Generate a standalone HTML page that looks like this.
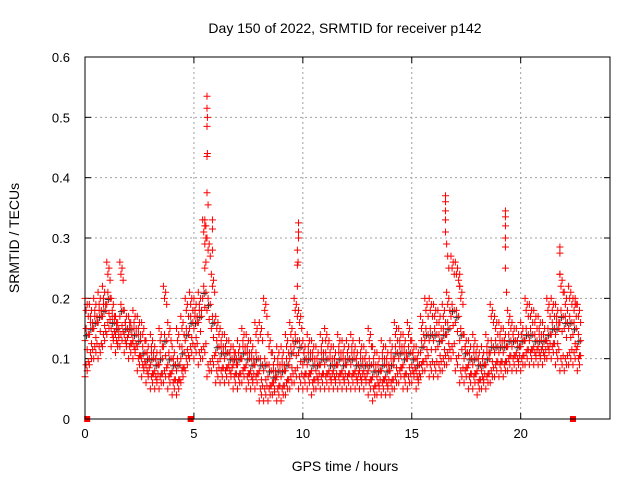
<!DOCTYPE html>
<html><head><meta charset="utf-8"><style>
body{margin:0;background:#fff}
svg{display:block;font-family:"Liberation Sans",sans-serif}
</style></head><body>
<svg id="chart" width="640" height="480">
<rect width="640" height="480" fill="#fff"/>
<text x="345" y="33" font-size="14" text-anchor="middle">Day 150 of 2022, SRMTID for receiver p142</text>
<text x="345" y="471" font-size="14" text-anchor="middle">GPS time / hours</text>
<text transform="translate(19,238) rotate(-90)" font-size="14" text-anchor="middle">SRMTID / TECUs</text>
<g id="grid"></g>
<g id="ticks"></g>
<g id="marks"></g>
<rect x="85" y="57" width="525" height="362" fill="none" stroke="#000" stroke-width="1"/>
</svg>
<script>
const xTicks=[0,5,10,15,20];
const yTicks=[0,0.1,0.2,0.3,0.4,0.5,0.6];
const yTickLabels=["0","0.1","0.2","0.3","0.4","0.5","0.6"];
const tStep=0.2;
const hiVals=[.2,.19,.2,.21,.22, .26,.2,.17,.26,.18, .17,.18,.17,.16,.13, .14,.12,.15,.22,.16, .12,.15,.17,.2,.21,
 .2,.21,.33,.3,.24, .17,.15,.14,.13,.12, .13,.15,.14,.13,.16, .16,.2,.14,.11,.12, .12,.14,.16,.2,.18,
 .13,.14,.13,.12,.14, .15,.13,.12,.14,.13, .13,.14,.12,.13,.12, .15,.12,.11,.13,.12, .13,.16,.15,.14,.16,
 .13,.12,.17,.2,.2, .19,.18,.19,.21,.27, .26,.22,.14,.13,.14, .12,.12,.14,.19,.17, .16,.15,.18,.16,.15,
 .16,.2,.19,.18,.17, .16,.2,.2,.19,.24, .21,.22,.2,.19];
const midVals=[.13,.14,.15,.16,.17, .19,.15,.14,.17,.14, .14,.13,.12,.1,.09, .09,.08,.09,.12,.09, .08,.08,.1,.13,.15,
 .15,.16,.2,.18,.15, .11,.1,.1,.09,.09, .09,.1,.09,.08,.09, .08,.08,.07,.06,.07, .07,.08,.1,.12,.11,
 .09,.09,.08,.08,.09, .09,.08,.08,.09,.08, .09,.09,.08,.08,.08, .08,.07,.07,.08,.07, .08,.1,.1,.09,.1,
 .09,.08,.11,.13,.13, .13,.12,.13,.14,.17, .16,.13,.1,.09,.09, .08,.08,.09,.11,.11, .11,.11,.12,.12,.11,
 .12,.13,.13,.12,.12, .12,.13,.14,.14,.16, .15,.15,.14,.12];
const loVals=[.07,.09,.1,.1,.12, .14,.12,.11,.12,.11, .1,.1,.08,.07,.06, .05,.05,.05,.06,.05, .04,.04,.06,.08,.1,
 .1,.09,.1,.07,.08, .06,.06,.06,.06,.05, .05,.06,.05,.05,.05, .03,.03,.03,.04,.03, .03,.04,.05,.06,.05,
 .05,.05,.04,.05,.05, .05,.05,.05,.05,.05, .05,.05,.05,.05,.05, .04,.03,.04,.04,.04, .04,.05,.06,.05,.05,
 .06,.05,.07,.08,.07, .07,.07,.08,.09,.1, .08,.06,.06,.05,.05, .04,.05,.05,.06,.07, .07,.07,.08,.08,.08,
 .08,.09,.09,.09,.09, .09,.1,.1,.09,.08, .08,.09,.09,.08];
const spikeT=[5.6,5.6,5.62,5.6,5.6,5.62,5.6,5.65,5.5,5.55,5.85,5.85,5.5,5.85,5.55,5.5,
 9.8,9.8,9.8,9.75,9.78,9.75,9.75,
 16.55,16.55,16.55,16.55,16.55,16.6,16.65,16.7,17.2,17.2,
 19.3,19.3,19.3,19.3,19.3,19.3,19.35, 21.8,21.8,21.8,22.5,22.55];
const spikeV=[.535,.515,.5,.485,.435,.44,.375,.355,.33,.32,.33,.315,.29,.28,.26,.25,
 .325,.31,.3,.28,.26,.255,.22,
 .37,.36,.345,.33,.31,.29,.27,.25,.24,.22,
 .345,.335,.32,.3,.285,.25,.21, .285,.275,.24,.2,.19];
const zeroT=[0.1,4.85,22.4];

const X0=85,X1=610,Y0=419,Y1=57;
const xs=t=>X0+t*(X1-X0)/24.1;
const ys=v=>Y0-v*(Y0-Y1)/0.6;
const NS="http://www.w3.org/2000/svg";
function mk(tag,attrs,parent){const e=document.createElementNS(NS,tag);for(const k in attrs)e.setAttribute(k,attrs[k]);parent.appendChild(e);return e;}
const grid=document.getElementById('grid'),ticks=document.getElementById('ticks'),marks=document.getElementById('marks');
xTicks.forEach((t,i)=>{
 const x=xs(t);
 if(t>0){const g=mk('line',{x1:x,x2:x,y1:Y1,y2:Y0,stroke:'#a0a0a0','stroke-dasharray':'2,3'},grid);
 
 }
 mk('line',{x1:x,x2:x,y1:Y0,y2:Y0-6,stroke:'#000'},ticks);
 mk('line',{x1:x,x2:x,y1:Y1,y2:Y1+6,stroke:'#000'},ticks);
 const tx=mk('text',{x:x,y:Y0+19,'font-size':13,'text-anchor':'middle'},ticks);
 tx.textContent=String(t);
 
 
});
yTicks.forEach((v,i)=>{
 const y=ys(v);
 if(v>0&&v<0.6){const g=mk('line',{x1:X0,x2:X1,y1:y,y2:y,stroke:'#a0a0a0','stroke-dasharray':'2,3'},grid);
 
 }
 mk('line',{x1:X0,x2:X0+6,y1:y,y2:y,stroke:'#000'},ticks);
 mk('line',{x1:X1,x2:X1-6,y1:y,y2:y,stroke:'#000'},ticks);
 const tx=mk('text',{x:X0-15,y:y+5,'font-size':13,'text-anchor':'end'},ticks);
 tx.textContent=yTickLabels[i];
 
 
});
function cross(t,v,color,name){
 const x=xs(t),y=ys(v);
 const p=mk('path',{d:`M${x-3.5},${y}h7M${x},${y-3.5}v7`,stroke:color,'stroke-width':1,fill:'none'},marks);
 
 
}
midVals.forEach((v,i)=>cross(i*tStep+0.07,v+0.008,'#333','black-point'));
const offT=[0,0.05,0.1,0.15];
const offHi=[0,-0.02,-0.01,-0.03];
const offMid=[0,0.02,-0.015,0.01];
const offLo=[0,0.02,0.01,0.025];
[[hiVals,offHi],[midVals,offMid],[loVals,offLo]].forEach(([arr,off])=>arr.forEach((v,i)=>{
 offT.forEach((dt,k)=>cross(i*tStep+dt,v+off[k],'#ff0000','red-point'));
}));
spikeT.forEach((t,i)=>cross(t,spikeV[i],'#ff0000','spike-point'));
zeroT.forEach(t=>{
 const r=mk('rect',{x:xs(t)-3,y:Y0-3,width:6,height:6,fill:'#ff0000'},marks);
 
 
});
</script>
</body></html>
